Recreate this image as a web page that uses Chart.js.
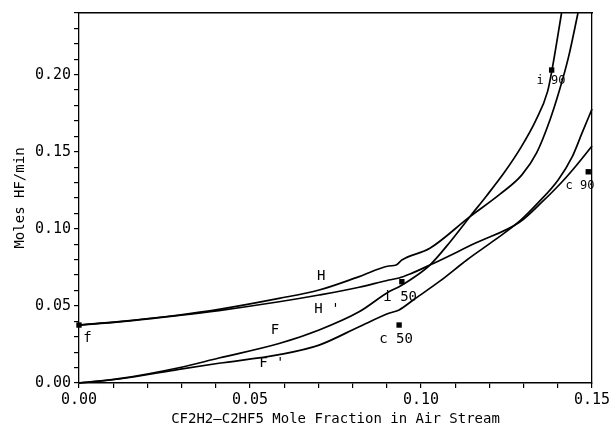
<!DOCTYPE html>
<html><head><meta charset="utf-8">
<script src="https://cdn.jsdelivr.net/npm/chart.js@4/dist/chart.umd.min.js"></script>
<style>html,body{margin:0;padding:0;background:#fff}canvas{display:block}</style>
</head><body>
<canvas id="c" width="616" height="434"></canvas>
<script>
// ---- data ----
const hX  = [0, 0.0117, 0.0292, 0.0409, 0.0585, 0.0702, 0.0819, 0.0906, 0.0927, 0.0944, 0.1026, 0.1143, 0.1231, 0.1295, 0.1338, 0.1377, 0.1405, 0.1432, 0.1459];
const hY  = [0.0376, 0.0398, 0.0441, 0.0478, 0.0549, 0.0603, 0.0690, 0.0759, 0.0765, 0.0798, 0.0874, 0.1079, 0.1225, 0.1350, 0.1492, 0.1706, 0.1900, 0.2120, 0.2400];

const hpX = [0, 0.0117, 0.0292, 0.0409, 0.0585, 0.0702, 0.0819, 0.0906, 0.0936, 0.0968, 0.1026, 0.1158, 0.1289, 0.1351, 0.1412, 0.1453, 0.1500];
const hpY = [0.0376, 0.0396, 0.0438, 0.0470, 0.0527, 0.0571, 0.0621, 0.0668, 0.0681, 0.0707, 0.0765, 0.0906, 0.1044, 0.1168, 0.1304, 0.1408, 0.1537];

const fX  = [0, 0.0117, 0.0292, 0.0409, 0.0585, 0.0702, 0.0819, 0.0906, 0.0936, 0.0968, 0.1026, 0.1085, 0.1143, 0.1192, 0.1245, 0.1290, 0.1335, 0.1370, 0.1383, 0.1411];
const fY  = [0, 0.0028, 0.0099, 0.0162, 0.0256, 0.0344, 0.0462, 0.0592, 0.0625, 0.0668, 0.0765, 0.0915, 0.1079, 0.1215, 0.1370, 0.1520, 0.1700, 0.1890, 0.2030, 0.2400];

const fpX = [0, 0.0117, 0.0292, 0.0409, 0.0585, 0.0702, 0.0819, 0.0906, 0.0936, 0.0977, 0.1056, 0.1134, 0.1216, 0.1289, 0.1342, 0.1401, 0.1442, 0.1471, 0.1500];
const fpY = [0, 0.0026, 0.0088, 0.0128, 0.0184, 0.0246, 0.0365, 0.0452, 0.0474, 0.0538, 0.0662, 0.0798, 0.0928, 0.1051, 0.1168, 0.1317, 0.1466, 0.1622, 0.1777];

const markX = [0, 0.0944, 0.0936, 0.1382, 0.1489];
const markY = [0.0376, 0.0657, 0.0376, 0.2030, 0.1370];

const labelText = ['H', "H '", 'F', "F '", 'f', 'i 50', 'c 50', 'i 90', 'c 90'];
const labelX = [0.0708, 0.0725, 0.0573, 0.0564, 0.0025, 0.0939, 0.0927, 0.1380, 0.1465];
const labelY = [0.0694, 0.0480, 0.0344, 0.0130, 0.0292, 0.0558, 0.0285, 0.1960, 0.1280];

const xTickLabels = ['0.00', '0.05', '0.10', '0.15'];
const yTickLabels = ['0.00', '0.05', '0.10', '0.15', '0.20'];

// ---- chart ----
const FONT = '"DejaVu Sans Mono", "Liberation Mono", monospace';
const pts = (xs, ys) => xs.map((x, i) => ({x, y: ys[i]}));
const isMajor = v => Math.abs(v / 0.05 - Math.round(v / 0.05)) < 1e-6;
const lineDs = (label, xs, ys) => ({
  label, data: pts(xs, ys), showLine: true, borderColor: '#000', borderWidth: 1.7,
  pointRadius: 0, cubicInterpolationMode: 'monotone', fill: false, clip: false
});

const labelPlugin = {
  id: 'labels',
  afterDatasetsDraw(chart) {
    const {ctx, scales: {x, y}} = chart;
    ctx.save();
    ctx.fillStyle = '#000';
    ctx.textAlign = 'center';
    ctx.textBaseline = 'middle';
    labelText.forEach((t, i) => {
      ctx.font = (t.indexOf('90') >= 0 ? '12px ' : '14px ') + FONT;
      ctx.fillText(t, x.getPixelForValue(labelX[i]), y.getPixelForValue(labelY[i]));
    });
    ctx.restore();
  }
};

new Chart(document.getElementById('c'), {
  type: 'scatter',
  data: {
    datasets: [
      lineDs('H', hX, hY),
      lineDs("H'", hpX, hpY),
      lineDs('F', fX, fY),
      lineDs("F'", fpX, fpY),
      { label: 'points', data: pts(markX, markY), showLine: false, pointStyle: 'rect',
        pointRadius: 3.8, backgroundColor: '#000', borderColor: '#000', borderWidth: 0, clip: false }
    ]
  },
  options: {
    responsive: false, animation: false, devicePixelRatio: 1,
    layout: { padding: { left: 0, right: 24, top: 13, bottom: 0 } },
    plugins: { legend: { display: false }, tooltip: { enabled: false } },
    scales: {
      x: {
        type: 'linear', position: 'bottom', min: 0, max: 0.15,
        afterFit: s => { s.height = 51; },
        border: { color: '#000', width: 1.5 },
        grid: { drawOnChartArea: false, drawTicks: true, tickLength: 5, color: '#000', lineWidth: 1.2 },
        ticks: {
          stepSize: 0.01, autoSkip: false, maxRotation: 0, color: '#000', padding: 3,
          font: { family: FONT, size: 15 },
          callback: v => isMajor(v) ? xTickLabels[Math.round(v / 0.05)] : ''
        },
        title: { display: true, text: 'CF2H2—C2HF5 Mole Fraction in Air Stream', color: '#000',
                 font: { family: FONT, size: 14 }, padding: { top: 0, bottom: 6 } }
      },
      x2: {
        type: 'linear', position: 'top', min: 0, max: 0.15,
        afterFit: s => { s.height = 0; },
        border: { color: '#000', width: 1.5 },
        grid: { drawOnChartArea: false, drawTicks: false },
        ticks: { display: false }
      },
      y: {
        type: 'linear', position: 'left', min: 0, max: 0.24,
        afterFit: s => { s.width = 79; },
        border: { color: '#000', width: 1.3, dash: [9, 3] },
        grid: { drawOnChartArea: false, drawTicks: true, tickLength: 5, color: '#000', lineWidth: 1.2 },
        ticks: {
          stepSize: 0.01, autoSkip: false, color: '#000', padding: 3,
          font: { family: FONT, size: 15 },
          callback: v => isMajor(v) ? yTickLabels[Math.round(v / 0.05)] : ''
        },
        title: { display: true, text: 'Moles HF/min', color: '#000',
                 font: { family: FONT, size: 14 }, padding: { top: 12, bottom: 0 } }
      },
      y2: {
        type: 'linear', position: 'right', min: 0, max: 0.24,
        afterFit: s => { s.width = 0; },
        border: { color: '#000', width: 1.3, dash: [9, 3, 2, 3] },
        grid: { drawOnChartArea: false, drawTicks: false },
        ticks: { display: false }
      }
    }
  },
  plugins: [labelPlugin]
});
</script>
</body></html>
